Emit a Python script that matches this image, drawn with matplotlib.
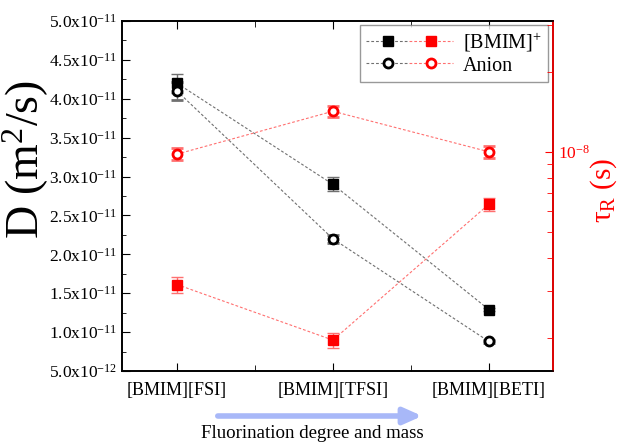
import numpy as np
import matplotlib
matplotlib.use("Agg")
import matplotlib.pyplot as plt
from matplotlib.ticker import FixedLocator, LogLocator, NullFormatter, FuncFormatter
from matplotlib.legend_handler import HandlerTuple
from matplotlib.lines import Line2D

plt.rcParams["font.family"] = ["Liberation Serif", "DejaVu Serif"]
plt.rcParams["mathtext.fontset"] = "custom"
plt.rcParams["mathtext.rm"] = "Liberation Serif"
plt.rcParams["mathtext.it"] = "Liberation Serif:italic"

# data
samples = ["[BMIM][FSI]", "[BMIM][TFSI]", "[BMIM][BETI]"]
d_cation = [4.20e-11, 2.90e-11, 1.29e-11]
d_cation_err = [0.12e-11, 0.09e-11, 0.02e-11]
d_anion = [4.10e-11, 2.20e-11, 0.88e-11]
d_anion_err = [0.12e-11, 0.05e-11, 0.02e-11]
tau_cation = [3.17e-9, 1.96e-9, 6.35e-9]
tau_cation_err = [0.22e-9, 0.13e-9, 0.35e-9]
tau_anion = [9.8e-9, 1.42e-8, 1.0e-8]
tau_anion_err = [0.5e-9, 0.65e-9, 0.5e-9]
d_ticks = [0.5e-11, 1.0e-11, 1.5e-11, 2.0e-11, 2.5e-11, 3.0e-11, 3.5e-11, 4.0e-11, 4.5e-11, 5.0e-11]

x = np.arange(len(samples))
RED = "#ff0000"
LRED = "#ff7070"
GREY = "#707070"

fig = plt.figure(figsize=(6.19, 4.43), dpi=100)
ax = fig.add_axes([0.197, 0.1625, 0.696, 0.79])
ax2 = ax.twinx()

ls = (0, (2.5, 1.8))
ax.plot(x, d_cation, ls=ls, lw=0.8, color=GREY, zorder=2)
ax.plot(x, d_anion, ls=ls, lw=0.8, color=GREY, zorder=2)
ax.errorbar(x, d_cation, yerr=d_cation_err, fmt="s", ms=6.5, color="black",
            ecolor=GREY, elinewidth=1, capsize=4, zorder=3)
ax.errorbar(x, d_anion, yerr=d_anion_err, fmt="o", ms=6.5, mfc="white", mec="black",
            mew=2, ecolor=GREY, elinewidth=1, capsize=4, zorder=3)

ax2.plot(x, tau_cation, ls=ls, lw=0.8, color=LRED, zorder=2)
ax2.plot(x, tau_anion, ls=ls, lw=0.8, color=LRED, zorder=2)
ax2.errorbar(x, tau_cation, yerr=tau_cation_err, fmt="s", ms=6.5, color=RED,
             ecolor=LRED, elinewidth=1, capsize=4, zorder=3)
ax2.errorbar(x, tau_anion, yerr=tau_anion_err, fmt="o", ms=6.5, mfc="white", mec=RED,
             mew=2, ecolor=LRED, elinewidth=1, capsize=4, zorder=3)

# left axis
ax.set_xlim(-0.353, 2.41)
ax.set_ylim(5e-12, 5e-11)
ax.yaxis.set_major_locator(FixedLocator(d_ticks))
ax.yaxis.set_minor_locator(FixedLocator([t + 0.25e-11 for t in d_ticks[:-1]]))


def sci(v, pos):
    if v <= 0:
        return ""
    e = int(np.floor(np.log10(v) + 1e-9))
    m = v / 10 ** e
    return f"{m:.1f}x10$^{{{e}}}$"


ax.yaxis.set_major_formatter(FuncFormatter(sci))
ax.set_xticks(x)
ax.set_xticklabels(samples, fontsize=13)
ax.xaxis.set_minor_locator(FixedLocator([0.5, 1.5]))
ax.tick_params(axis="both", which="both", direction="in", top=True, right=False)
ax.tick_params(axis="y", which="major", length=6, labelsize=12.5)
ax.tick_params(axis="y", which="minor", length=3)
ax.tick_params(axis="x", which="major", length=6, pad=8)
ax.tick_params(axis="x", which="minor", length=4)
ax.set_ylabel("D (m$^2$/s)", fontsize=33)
ax.yaxis.set_label_coords(-0.165, 0.603)

# right axis
ax2.set_yscale("log")
ax2.set_ylim(1.5e-9, 3.1e-8)
ax2.yaxis.set_major_locator(LogLocator(base=10, subs=(1.0,)))
ax2.yaxis.set_minor_locator(LogLocator(base=10, subs=np.arange(2, 10) * 1.0))
ax2.yaxis.set_minor_formatter(NullFormatter())
ax2.yaxis.set_major_formatter(FuncFormatter(lambda v, p: f"10$^{{{int(round(np.log10(v)))}}}$"))
ax2.tick_params(axis="y", which="both", direction="in", colors=RED, labelsize=12.5)
ax2.tick_params(axis="y", which="major", length=6)
ax2.tick_params(axis="y", which="minor", length=4)
ax2.spines["right"].set_color(RED)
ax2.set_ylabel("\u03c4$_{\\rm R}$ (s)", fontsize=21, color=RED, rotation=90)
ax2.yaxis.set_label_coords(1.082, 0.517)

for a in (ax, ax2):
    for s in ("left", "top", "bottom", "right"):
        a.spines[s].set_linewidth(1.2)

# legend
kw = dict(ls=ls, lw=0.8, ms=6.5)
h1 = (Line2D([], [], marker="s", color=GREY, mfc="black", mec="black", **kw),
      Line2D([], [], marker="s", color=LRED, mfc=RED, mec=RED, **kw))
h2 = (Line2D([], [], marker="o", color=GREY, mfc="white", mec="black", mew=2, **kw),
      Line2D([], [], marker="o", color=LRED, mfc="white", mec=RED, mew=2, **kw))
leg = ax.legend([h1, h2], ["[BMIM]$^{+}$", "Anion"],
                handler_map={tuple: HandlerTuple(ndivide=None, pad=0.0)},
                loc="upper right", bbox_to_anchor=(0.988, 0.989), borderaxespad=0,
                fontsize=14.5, handlelength=4.3, frameon=True, fancybox=False,
                edgecolor="#808080", borderpad=0.3, labelspacing=0.12, handletextpad=0.5)
leg.get_frame().set_linewidth(1.0)
leg.set_zorder(5)

# arrow and caption below
fig.add_artist(matplotlib.patches.FancyArrowPatch(
    (215 / 619, 1 - 416 / 443), (425 / 619, 1 - 416 / 443),
    transform=fig.transFigure, arrowstyle="-|>,head_length=0.9,head_width=0.4",
    color="#a8b8f8", lw=4, mutation_scale=12))
fig.text(312 / 619, 1 - 434 / 443, "Fluorination degree and mass", ha="center",
         va="center", fontsize=13.6)

fig.savefig("out.png", dpi=100)
